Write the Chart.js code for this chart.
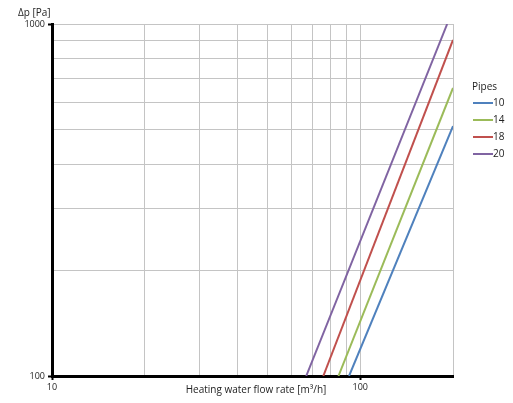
<!DOCTYPE html>
<html>
<head>
<meta charset="utf-8">
<script src="https://cdn.jsdelivr.net/npm/chart.js@4/dist/chart.umd.min.js"></script>
<style>
  html, body { margin: 0; padding: 0; background: #fff; }
  #wrap { width: 513px; height: 403px; position: relative; }
</style>
</head>
<body>
<div id="wrap"><canvas id="c"></canvas></div>
<script>
// Pipe series: flow rate [m³/h] vs pressure drop [Pa] (log-log)
const pipeLabels = ['10', '14', '18', '20'];
const flow10 = [92, 200];   const dp10 = [100, 513];
const flow14 = [85, 200];   const dp14 = [100, 658];
const flow18 = [75.9, 200]; const dp18 = [100, 901];
const flow20 = [66.8, 191.5]; const dp20 = [100, 1000];
// Grid positions and the ones that carry a label
const xGridValues = [10, 20, 30, 40, 50, 60, 70, 80, 90, 100, 200];
const yGridValues = [100, 200, 300, 400, 500, 600, 700, 800, 900, 1000];
const xTickLabels = [10, 100];
const yTickLabels = [100, 1000];
const colors = ['#4F81BD', '#9BBB59', '#C0504D', '#8064A2'];

const FONT = '"Open Sans", "Noto Sans", sans-serif';
const flows = [flow10, flow14, flow18, flow20];
const dps = [dp10, dp14, dp18, dp20];

const datasets = pipeLabels.map((lab, i) => ({
  label: lab,
  data: flows[i].map((f, j) => ({ x: f, y: dps[i][j] })),
  borderColor: colors[i],
  backgroundColor: colors[i],
  borderWidth: 2,
  pointRadius: 0,
  showLine: true,
  tension: 0
}));

// Axis titles (horizontal) and the "Pipes" legend drawn on the canvas
const decorations = {
  id: 'decorations',
  afterDraw(chart) {
    const ctx = chart.ctx;
    ctx.save();
    ctx.fillStyle = '#222';
    ctx.font = '10px ' + FONT;
    ctx.textBaseline = 'middle';
    ctx.textAlign = 'left';
    ctx.fillText('Δp [Pa]', 18, 13);
    ctx.textAlign = 'center';
    ctx.fillText('Heating water flow rate [m³/h]', 256, 390);

    ctx.textAlign = 'left';
    ctx.fillText('Pipes', 472, 87);
    chart.data.datasets.forEach((ds, i) => {
      const y = 103 + i * 17;
      ctx.strokeStyle = ds.borderColor;
      ctx.lineWidth = 2;
      ctx.beginPath();
      ctx.moveTo(473, y);
      ctx.lineTo(493, y);
      ctx.stroke();
      ctx.fillStyle = '#222';
      ctx.fillText(ds.label, 493, y);
    });
    ctx.restore();
  }
};

const isMajor = (v, list) => list.some(t => Math.abs(t - v) < 1e-6);

new Chart(document.getElementById('c'), {
  type: 'scatter',
  data: { datasets },
  plugins: [decorations],
  options: {
    responsive: true,
    maintainAspectRatio: false,
    animation: false,
    layout: { padding: { left: 0, top: 24, right: 60, bottom: 0 } },
    plugins: { legend: { display: false }, tooltip: { enabled: false } },
    scales: {
      x: {
        type: 'logarithmic',
        min: 10,
        max: 200,
        afterBuildTicks(s) { s.ticks = xGridValues.map(v => ({ value: v })); },
        afterFit(s) { s.height = 27; },
        border: { color: '#000', width: 3 },
        grid: {
          color: '#c4c4c4',
          lineWidth: 1,
          tickLength: 4,
          tickColor: c => (c.tick && isMajor(c.tick.value, xTickLabels)) ? '#000' : 'rgba(0,0,0,0)',
          tickWidth: 2
        },
        ticks: {
          autoSkip: false,
          maxRotation: 0,
          padding: 2,
          color: '#222',
          font: { family: FONT, size: 9 },
          callback: v => isMajor(v, xTickLabels) ? String(v) : ''
        }
      },
      y: {
        type: 'logarithmic',
        min: 100,
        max: 1000,
        afterBuildTicks(s) { s.ticks = yGridValues.map(v => ({ value: v })); },
        afterFit(s) { s.width = 52; },
        border: { color: '#000', width: 3 },
        grid: {
          color: '#c4c4c4',
          lineWidth: 1,
          tickLength: 4,
          tickColor: c => (c.tick && isMajor(c.tick.value, yTickLabels)) ? '#000' : 'rgba(0,0,0,0)',
          tickWidth: 2
        },
        ticks: {
          autoSkip: false,
          padding: 3,
          color: '#222',
          font: { family: FONT, size: 9 },
          callback: v => isMajor(v, yTickLabels) ? String(v) : ''
        }
      }
    }
  }
});
</script>
</body>
</html>
